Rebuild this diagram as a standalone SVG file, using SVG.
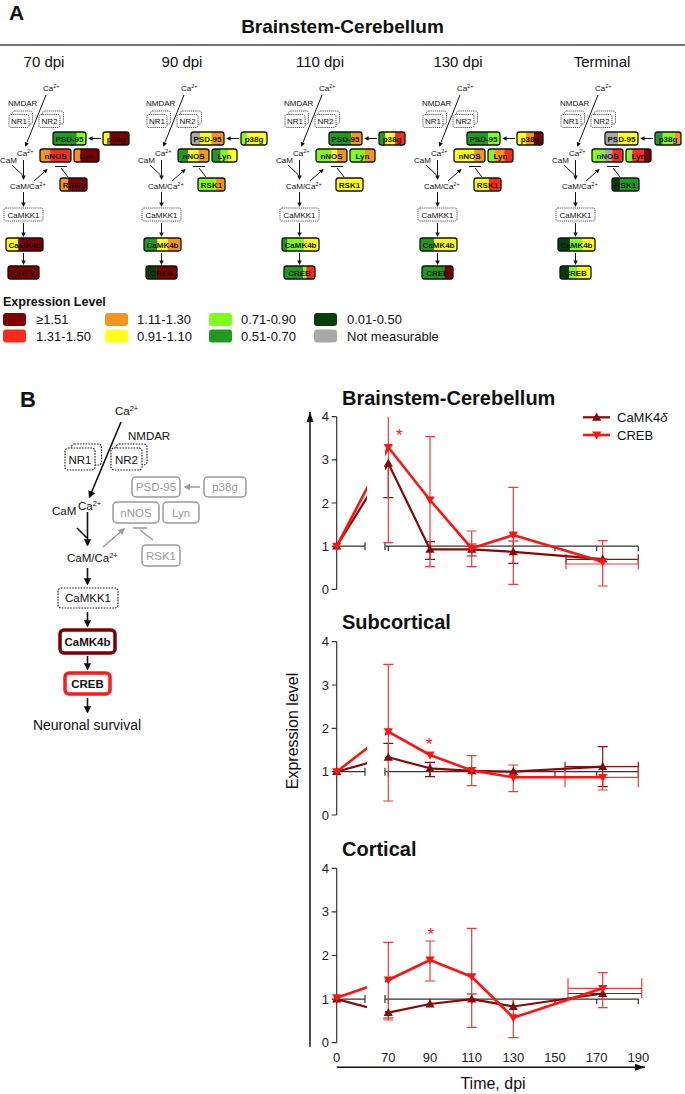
<svg xmlns="http://www.w3.org/2000/svg" width="685" height="1094" viewBox="0 0 685 1094">
<style>
text{font-family:"Liberation Sans",Arial,sans-serif;fill:#111}
.t8{font-size:8px}
.sup{font-size:5.5px}
.mid{text-anchor:middle}
.bt{font-size:8px;font-weight:bold;text-anchor:middle}
.bx{fill:none;stroke:#111;stroke-width:1.3}
.dot{fill:#fff;stroke:#222;stroke-width:0.8;stroke-dasharray:1.2 0.9}
.ln{stroke:#111;stroke-width:1;fill:none}
.ar{marker-end:url(#ah)}
.DR{fill:#7d0000}.R{fill:#ff2a1a}.O{fill:#f7941d}.Y{fill:#ffff1a}.LG{fill:#80ff1a}.G{fill:#1f9a1f}.DG{fill:#073d07}.GR{fill:#a8a8a8}
.lab{font-size:15px;text-anchor:middle}
.leg{font-size:13px}
.b11{font-size:11.5px}
.bsup{font-size:7.5px}
.bl{stroke:#111;stroke-width:1.6;fill:none}
.gbx{fill:none;stroke:#9a9a9a;stroke-width:1.5}
.gt{font-size:11.5px;fill:#9a9a9a;text-anchor:middle}
.gl{stroke:#9a9a9a;stroke-width:1.5;fill:none}
.ax{stroke:#333;stroke-width:1.2;fill:none}
.tk{font-size:13px;text-anchor:end;fill:#222}
.xl{font-size:13px;text-anchor:middle;fill:#222}
.ttl{font-size:20px;font-weight:bold}
.ebr{stroke:#f03a3a;stroke-width:1.2;fill:none}
.ebd{stroke:#8b1010;stroke-width:1.2;fill:none}
.l1{stroke:#870808;stroke-width:2.2;fill:none;stroke-linejoin:round}
.l2{stroke:#ff1414;stroke-width:2.6;fill:none;stroke-linejoin:round}
.m1{fill:#870808}
.m2{fill:#ff1414}
.star{font-size:17px;fill:#ff1414;text-anchor:middle}
</style>
<defs>
<marker id="ah" viewBox="0 0 10 10" refX="8" refY="5" markerWidth="4.5" markerHeight="4.5" orient="auto"><path d="M0,0 L10,5 L0,10 z" fill="#111"/></marker>
<marker id="ahg" viewBox="0 0 10 10" refX="8" refY="5" markerWidth="4.5" markerHeight="4.5" orient="auto"><path d="M0,0 L10,5 L0,10 z" fill="#9a9a9a"/></marker>
<marker id="ahL" viewBox="0 0 10 7" refX="10" refY="3.5" markerWidth="6.7" markerHeight="4.7" orient="auto"><path d="M0,0 L10,3.5 L0,7 z" fill="#111"/></marker>
<path id="tu" d="M0,-4.6 L4.6,3.4 L-4.6,3.4 Z"/>
<path id="td" d="M0,4.6 L4.6,-3.4 L-4.6,-3.4 Z"/>
<clipPath id="brk" clipPathUnits="userSpaceOnUse"><rect x="0" y="0" width="367" height="1094"/><rect x="385" y="0" width="300" height="1094"/></clipPath>
</defs>
<rect width="685" height="1094" fill="#fff"/>

<!-- Panel A header -->
<g id="headerA">
<text x="9" y="20" font-size="21" font-weight="bold">A</text>
<text x="342.5" y="33" font-size="19" font-weight="bold" text-anchor="middle">Brainstem-Cerebellum</text>
<line x1="0" y1="45" x2="685" y2="45" stroke="#444" stroke-width="1.5"/>
<text class="lab" x="44" y="67">70 dpi</text>
<text class="lab" x="182" y="67">90 dpi</text>
<text class="lab" x="320" y="67">110 dpi</text>
<text class="lab" x="458" y="67">130 dpi</text>
<text class="lab" x="602" y="67">Terminal</text>
</g>

<!-- Column 70 dpi -->
<g id="col70" transform="translate(0,0)">
<g id="c70-conn">
<line class="ln ar" x1="46" y1="95" x2="25.5" y2="146"/>
<line class="ln ar" x1="23.5" y1="160" x2="23.5" y2="179"/>
<line class="ln" x1="12" y1="165" x2="22.5" y2="175"/>
<line class="ln ar" x1="34" y1="181" x2="47" y2="169.5"/>
<line class="ln ar" x1="23.5" y1="192" x2="23.5" y2="206"/>
<line class="ln ar" x1="23.5" y1="223" x2="23.5" y2="236"/>
<line class="ln ar" x1="23.5" y1="253" x2="23.5" y2="264"/>
<line class="ln ar" x1="101" y1="138.5" x2="89" y2="138.5"/>
<path class="ln" d="M68,177 L61,168 M55,166.5 H67"/>
</g>
<g id="c70-ca1"><text class="t8" x="43" y="91">Ca<tspan class="sup" dy="-3">2+</tspan></text></g>
<g id="c70-nmdar"><text class="t8" x="8" y="106">NMDAR</text></g>
<g id="c70-nr1"><rect class="dot" x="12.5" y="111" width="20" height="13" rx="2"/><rect class="dot" x="9" y="114.5" width="20" height="13" rx="2"/><text class="t8 mid" x="19" y="124">NR1</text></g>
<g id="c70-nr2"><rect class="dot" x="42.5" y="111" width="21" height="13" rx="2"/><rect class="dot" x="39" y="114.5" width="21" height="13" rx="2"/><text class="t8 mid" x="49.5" y="124">NR2</text></g>
<g id="c70-ca2"><text class="t8" x="17" y="156">Ca<tspan class="sup" dy="-3">2+</tspan></text></g>
<g id="c70-cam"><text class="t8" x="0" y="163">CaM</text></g>
<g id="c70-camca"><text class="t8" x="10" y="189">CaM/Ca<tspan class="sup" dy="-3">2+</tspan></text></g>
<g id="c70-camkk1"><rect class="dot" x="4" y="208" width="39" height="13" rx="2"/><text class="t8 mid" x="23.5" y="217.5">CaMKK1</text></g>
<g id="c70-psd95"><rect class="G" x="53" y="132" width="23.8" height="13"/><rect class="LG" x="76.8" y="132" width="9.2" height="13"/><rect class="bx" x="53" y="132" width="33" height="13" rx="2.5"/><text class="bt" x="69.5" y="141.5">PSD-95</text></g>
<g id="c70-p38g"><rect class="Y" x="103" y="132" width="6.5" height="13"/><rect class="DR" x="109.5" y="132" width="19.5" height="13"/><rect class="bx" x="103" y="132" width="26" height="13" rx="2.5"/><text class="bt" x="116" y="141.5">p38g</text></g>
<g id="c70-nnos"><rect class="O" x="40" y="149" width="10.2" height="13"/><rect class="R" x="50.2" y="149" width="20.8" height="13"/><rect class="bx" x="40" y="149" width="31" height="13" rx="2.5"/><text class="bt" x="55.5" y="158.5">nNOS</text></g>
<g id="c70-lyn"><rect class="O" x="74" y="149" width="6.25" height="13"/><rect class="DR" x="80.25" y="149" width="18.75" height="13"/><rect class="bx" x="74" y="149" width="25" height="13" rx="2.5"/><text class="bt" x="86.5" y="158.5">Lyn</text></g>
<g id="c70-rsk1"><rect class="O" x="60" y="178" width="8.1" height="13"/><rect class="DR" x="68.1" y="178" width="18.9" height="13"/><rect class="bx" x="60" y="178" width="27" height="13" rx="2.5"/><text class="bt" x="73.5" y="187.5">RSK1</text></g>
<g id="c70-camk4b"><rect class="Y" x="6" y="238" width="12.2" height="13"/><rect class="DR" x="18.2" y="238" width="24.8" height="13"/><rect class="bx" x="6" y="238" width="37" height="13" rx="2.5"/><text class="bt" x="24.5" y="247.5">CaMK4b</text></g>
<g id="c70-creb"><rect class="DR" x="8" y="266" width="31" height="13"/><rect class="bx" x="8" y="266" width="31" height="13" rx="2.5"/><text class="bt" x="23.5" y="275.5">CREB</text></g>
</g>

<!-- Column 90 dpi -->
<g id="col90" transform="translate(138,0)">
<g id="c90-conn">
<line class="ln ar" x1="46" y1="95" x2="25.5" y2="146"/>
<line class="ln ar" x1="23.5" y1="160" x2="23.5" y2="179"/>
<line class="ln" x1="12" y1="165" x2="22.5" y2="175"/>
<line class="ln ar" x1="34" y1="181" x2="47" y2="169.5"/>
<line class="ln ar" x1="23.5" y1="192" x2="23.5" y2="206"/>
<line class="ln ar" x1="23.5" y1="223" x2="23.5" y2="236"/>
<line class="ln ar" x1="23.5" y1="253" x2="23.5" y2="264"/>
<line class="ln ar" x1="101" y1="138.5" x2="89" y2="138.5"/>
<path class="ln" d="M68,177 L61,168 M55,166.5 H67"/>
</g>
<g id="c90-ca1"><text class="t8" x="43" y="91">Ca<tspan class="sup" dy="-3">2+</tspan></text></g>
<g id="c90-nmdar"><text class="t8" x="8" y="106">NMDAR</text></g>
<g id="c90-nr1"><rect class="dot" x="12.5" y="111" width="20" height="13" rx="2"/><rect class="dot" x="9" y="114.5" width="20" height="13" rx="2"/><text class="t8 mid" x="19" y="124">NR1</text></g>
<g id="c90-nr2"><rect class="dot" x="42.5" y="111" width="21" height="13" rx="2"/><rect class="dot" x="39" y="114.5" width="21" height="13" rx="2"/><text class="t8 mid" x="49.5" y="124">NR2</text></g>
<g id="c90-ca2"><text class="t8" x="17" y="156">Ca<tspan class="sup" dy="-3">2+</tspan></text></g>
<g id="c90-cam"><text class="t8" x="0" y="163">CaM</text></g>
<g id="c90-camca"><text class="t8" x="10" y="189">CaM/Ca<tspan class="sup" dy="-3">2+</tspan></text></g>
<g id="c90-camkk1"><rect class="dot" x="4" y="208" width="39" height="13" rx="2"/><text class="t8 mid" x="23.5" y="217.5">CaMKK1</text></g>
<g id="c90-psd95"><rect class="GR" x="53" y="132" width="9.2" height="13"/><rect class="Y" x="62.2" y="132" width="11.3" height="13"/><rect class="O" x="73.5" y="132" width="12.5" height="13"/><rect class="bx" x="53" y="132" width="33" height="13" rx="2.5"/><text class="bt" x="69.5" y="141.5">PSD-95</text></g>
<g id="c90-p38g"><rect class="LG" x="103" y="132" width="6.5" height="13"/><rect class="Y" x="109.5" y="132" width="19.5" height="13"/><rect class="bx" x="103" y="132" width="26" height="13" rx="2.5"/><text class="bt" x="116" y="141.5">p38g</text></g>
<g id="c90-nnos"><rect class="G" x="40" y="149" width="10.2" height="13"/><rect class="Y" x="50.2" y="149" width="10.3" height="13"/><rect class="O" x="60.5" y="149" width="10.5" height="13"/><rect class="bx" x="40" y="149" width="31" height="13" rx="2.5"/><text class="bt" x="55.5" y="158.5">nNOS</text></g>
<g id="c90-lyn"><rect class="G" x="74" y="149" width="8.75" height="13"/><rect class="LG" x="82.75" y="149" width="7.5" height="13"/><rect class="Y" x="90.25" y="149" width="8.75" height="13"/><rect class="bx" x="74" y="149" width="25" height="13" rx="2.5"/><text class="bt" x="86.5" y="158.5">Lyn</text></g>
<g id="c90-rsk1"><rect class="LG" x="60" y="178" width="17.8" height="13"/><rect class="O" x="77.8" y="178" width="9.2" height="13"/><rect class="bx" x="60" y="178" width="27" height="13" rx="2.5"/><text class="bt" x="73.5" y="187.5">RSK1</text></g>
<g id="c90-camk4b"><rect class="G" x="6" y="238" width="13.3" height="13"/><rect class="Y" x="19.3" y="238" width="10.4" height="13"/><rect class="O" x="29.7" y="238" width="13.3" height="13"/><rect class="bx" x="6" y="238" width="37" height="13" rx="2.5"/><text class="bt" x="24.5" y="247.5">CaMK4b</text></g>
<g id="c90-creb"><rect class="DG" x="8" y="266" width="10.9" height="13"/><rect class="DR" x="18.9" y="266" width="20.1" height="13"/><rect class="bx" x="8" y="266" width="31" height="13" rx="2.5"/><text class="bt" x="23.5" y="275.5">CREB</text></g>
</g>

<!-- Column 110 dpi -->
<g id="col110" transform="translate(276,0)">
<g id="c110-conn">
<line class="ln ar" x1="46" y1="95" x2="25.5" y2="146"/>
<line class="ln ar" x1="23.5" y1="160" x2="23.5" y2="179"/>
<line class="ln" x1="12" y1="165" x2="22.5" y2="175"/>
<line class="ln ar" x1="34" y1="181" x2="47" y2="169.5"/>
<line class="ln ar" x1="23.5" y1="192" x2="23.5" y2="206"/>
<line class="ln ar" x1="23.5" y1="223" x2="23.5" y2="236"/>
<line class="ln ar" x1="23.5" y1="253" x2="23.5" y2="264"/>
<line class="ln ar" x1="101" y1="138.5" x2="89" y2="138.5"/>
<path class="ln" d="M68,177 L61,168 M55,166.5 H67"/>
</g>
<g id="c110-ca1"><text class="t8" x="43" y="91">Ca<tspan class="sup" dy="-3">2+</tspan></text></g>
<g id="c110-nmdar"><text class="t8" x="8" y="106">NMDAR</text></g>
<g id="c110-nr1"><rect class="dot" x="12.5" y="111" width="20" height="13" rx="2"/><rect class="dot" x="9" y="114.5" width="20" height="13" rx="2"/><text class="t8 mid" x="19" y="124">NR1</text></g>
<g id="c110-nr2"><rect class="dot" x="42.5" y="111" width="21" height="13" rx="2"/><rect class="dot" x="39" y="114.5" width="21" height="13" rx="2"/><text class="t8 mid" x="49.5" y="124">NR2</text></g>
<g id="c110-ca2"><text class="t8" x="17" y="156">Ca<tspan class="sup" dy="-3">2+</tspan></text></g>
<g id="c110-cam"><text class="t8" x="0" y="163">CaM</text></g>
<g id="c110-camca"><text class="t8" x="10" y="189">CaM/Ca<tspan class="sup" dy="-3">2+</tspan></text></g>
<g id="c110-camkk1"><rect class="dot" x="4" y="208" width="39" height="13" rx="2"/><text class="t8 mid" x="23.5" y="217.5">CaMKK1</text></g>
<g id="c110-psd95"><rect class="G" x="53" y="132" width="22.4" height="13"/><rect class="O" x="75.4" y="132" width="10.6" height="13"/><rect class="bx" x="53" y="132" width="33" height="13" rx="2.5"/><text class="bt" x="69.5" y="141.5">PSD-95</text></g>
<g id="c110-p38g"><rect class="G" x="103" y="132" width="6.5" height="13"/><rect class="Y" x="109.5" y="132" width="9.6" height="13"/><rect class="R" x="119.1" y="132" width="9.9" height="13"/><rect class="bx" x="103" y="132" width="26" height="13" rx="2.5"/><text class="bt" x="116" y="141.5">p38g</text></g>
<g id="c110-nnos"><rect class="LG" x="40" y="149" width="15.5" height="13"/><rect class="Y" x="55.5" y="149" width="5.6" height="13"/><rect class="O" x="61.1" y="149" width="9.9" height="13"/><rect class="bx" x="40" y="149" width="31" height="13" rx="2.5"/><text class="bt" x="55.5" y="158.5">nNOS</text></g>
<g id="c110-lyn"><rect class="LG" x="74" y="149" width="15" height="13"/><rect class="O" x="89" y="149" width="10" height="13"/><rect class="bx" x="74" y="149" width="25" height="13" rx="2.5"/><text class="bt" x="86.5" y="158.5">Lyn</text></g>
<g id="c110-rsk1"><rect class="Y" x="60" y="178" width="27" height="13"/><rect class="bx" x="60" y="178" width="27" height="13" rx="2.5"/><text class="bt" x="73.5" y="187.5">RSK1</text></g>
<g id="c110-camk4b"><rect class="G" x="6" y="238" width="5.6" height="13"/><rect class="LG" x="11.6" y="238" width="16.6" height="13"/><rect class="Y" x="28.2" y="238" width="14.8" height="13"/><rect class="bx" x="6" y="238" width="37" height="13" rx="2.5"/><text class="bt" x="24.5" y="247.5">CaMK4b</text></g>
<g id="c110-creb"><rect class="G" x="8" y="266" width="19.2" height="13"/><rect class="LG" x="27.2" y="266" width="3.1" height="13"/><rect class="R" x="30.3" y="266" width="8.7" height="13"/><rect class="bx" x="8" y="266" width="31" height="13" rx="2.5"/><text class="bt" x="23.5" y="275.5">CREB</text></g>
</g>

<!-- Column 130 dpi -->
<g id="col130" transform="translate(414,0)">
<g id="c130-conn">
<line class="ln ar" x1="46" y1="95" x2="25.5" y2="146"/>
<line class="ln ar" x1="23.5" y1="160" x2="23.5" y2="179"/>
<line class="ln" x1="12" y1="165" x2="22.5" y2="175"/>
<line class="ln ar" x1="34" y1="181" x2="47" y2="169.5"/>
<line class="ln ar" x1="23.5" y1="192" x2="23.5" y2="206"/>
<line class="ln ar" x1="23.5" y1="223" x2="23.5" y2="236"/>
<line class="ln ar" x1="23.5" y1="253" x2="23.5" y2="264"/>
<line class="ln ar" x1="101" y1="138.5" x2="89" y2="138.5"/>
<path class="ln" d="M68,177 L61,168 M55,166.5 H67"/>
</g>
<g id="c130-ca1"><text class="t8" x="43" y="91">Ca<tspan class="sup" dy="-3">2+</tspan></text></g>
<g id="c130-nmdar"><text class="t8" x="8" y="106">NMDAR</text></g>
<g id="c130-nr1"><rect class="dot" x="12.5" y="111" width="20" height="13" rx="2"/><rect class="dot" x="9" y="114.5" width="20" height="13" rx="2"/><text class="t8 mid" x="19" y="124">NR1</text></g>
<g id="c130-nr2"><rect class="dot" x="42.5" y="111" width="21" height="13" rx="2"/><rect class="dot" x="39" y="114.5" width="21" height="13" rx="2"/><text class="t8 mid" x="49.5" y="124">NR2</text></g>
<g id="c130-ca2"><text class="t8" x="17" y="156">Ca<tspan class="sup" dy="-3">2+</tspan></text></g>
<g id="c130-cam"><text class="t8" x="0" y="163">CaM</text></g>
<g id="c130-camca"><text class="t8" x="10" y="189">CaM/Ca<tspan class="sup" dy="-3">2+</tspan></text></g>
<g id="c130-camkk1"><rect class="dot" x="4" y="208" width="39" height="13" rx="2"/><text class="t8 mid" x="23.5" y="217.5">CaMKK1</text></g>
<g id="c130-psd95"><rect class="G" x="53" y="132" width="21.5" height="13"/><rect class="LG" x="74.5" y="132" width="11.5" height="13"/><rect class="bx" x="53" y="132" width="33" height="13" rx="2.5"/><text class="bt" x="69.5" y="141.5">PSD-95</text></g>
<g id="c130-p38g"><rect class="Y" x="103" y="132" width="9.1" height="13"/><rect class="O" x="112.1" y="132" width="7.8" height="13"/><rect class="DR" x="119.9" y="132" width="9.1" height="13"/><rect class="bx" x="103" y="132" width="26" height="13" rx="2.5"/><text class="bt" x="116" y="141.5">p38g</text></g>
<g id="c130-nnos"><rect class="Y" x="40" y="149" width="20.2" height="13"/><rect class="O" x="60.2" y="149" width="10.8" height="13"/><rect class="bx" x="40" y="149" width="31" height="13" rx="2.5"/><text class="bt" x="55.5" y="158.5">nNOS</text></g>
<g id="c130-lyn"><rect class="LG" x="74" y="149" width="6.25" height="13"/><rect class="O" x="80.25" y="149" width="10" height="13"/><rect class="R" x="90.25" y="149" width="8.75" height="13"/><rect class="bx" x="74" y="149" width="25" height="13" rx="2.5"/><text class="bt" x="86.5" y="158.5">Lyn</text></g>
<g id="c130-rsk1"><rect class="Y" x="60" y="178" width="14.9" height="13"/><rect class="R" x="74.9" y="178" width="12.1" height="13"/><rect class="bx" x="60" y="178" width="27" height="13" rx="2.5"/><text class="bt" x="73.5" y="187.5">RSK1</text></g>
<g id="c130-camk4b"><rect class="G" x="6" y="238" width="14.1" height="13"/><rect class="Y" x="20.1" y="238" width="22.9" height="13"/><rect class="bx" x="6" y="238" width="37" height="13" rx="2.5"/><text class="bt" x="24.5" y="247.5">CaMK4b</text></g>
<g id="c130-creb"><rect class="G" x="8" y="266" width="22.3" height="13"/><rect class="DR" x="30.3" y="266" width="8.7" height="13"/><rect class="bx" x="8" y="266" width="31" height="13" rx="2.5"/><text class="bt" x="23.5" y="275.5">CREB</text></g>
</g>

<!-- Column Terminal -->
<g id="colT" transform="translate(552,0)">
<g id="cT-conn">
<line class="ln ar" x1="46" y1="95" x2="25.5" y2="146"/>
<line class="ln ar" x1="23.5" y1="160" x2="23.5" y2="179"/>
<line class="ln" x1="12" y1="165" x2="22.5" y2="175"/>
<line class="ln ar" x1="34" y1="181" x2="47" y2="169.5"/>
<line class="ln ar" x1="23.5" y1="192" x2="23.5" y2="206"/>
<line class="ln ar" x1="23.5" y1="223" x2="23.5" y2="236"/>
<line class="ln ar" x1="23.5" y1="253" x2="23.5" y2="264"/>
<line class="ln ar" x1="101" y1="138.5" x2="89" y2="138.5"/>
<path class="ln" d="M68,177 L61,168 M55,166.5 H67"/>
</g>
<g id="cT-ca1"><text class="t8" x="43" y="91">Ca<tspan class="sup" dy="-3">2+</tspan></text></g>
<g id="cT-nmdar"><text class="t8" x="8" y="106">NMDAR</text></g>
<g id="cT-nr1"><rect class="dot" x="12.5" y="111" width="20" height="13" rx="2"/><rect class="dot" x="9" y="114.5" width="20" height="13" rx="2"/><text class="t8 mid" x="19" y="124">NR1</text></g>
<g id="cT-nr2"><rect class="dot" x="42.5" y="111" width="21" height="13" rx="2"/><rect class="dot" x="39" y="114.5" width="21" height="13" rx="2"/><text class="t8 mid" x="49.5" y="124">NR2</text></g>
<g id="cT-ca2"><text class="t8" x="17" y="156">Ca<tspan class="sup" dy="-3">2+</tspan></text></g>
<g id="cT-cam"><text class="t8" x="0" y="163">CaM</text></g>
<g id="cT-camca"><text class="t8" x="10" y="189">CaM/Ca<tspan class="sup" dy="-3">2+</tspan></text></g>
<g id="cT-camkk1"><rect class="dot" x="4" y="208" width="39" height="13" rx="2"/><text class="t8 mid" x="23.5" y="217.5">CaMKK1</text></g>
<g id="cT-psd95"><rect class="GR" x="53" y="132" width="13.2" height="13"/><rect class="Y" x="66.2" y="132" width="19.8" height="13"/><rect class="bx" x="53" y="132" width="33" height="13" rx="2.5"/><text class="bt" x="69.5" y="141.5">PSD-95</text></g>
<g id="cT-p38g"><rect class="G" x="103" y="132" width="7.8" height="13"/><rect class="LG" x="110.8" y="132" width="11.7" height="13"/><rect class="O" x="122.5" y="132" width="6.5" height="13"/><rect class="bx" x="103" y="132" width="26" height="13" rx="2.5"/><text class="bt" x="116" y="141.5">p38g</text></g>
<g id="cT-nnos"><rect class="LG" x="40" y="149" width="12.4" height="13"/><rect class="GR" x="52.4" y="149" width="7.8" height="13"/><rect class="R" x="60.2" y="149" width="10.8" height="13"/><rect class="bx" x="40" y="149" width="31" height="13" rx="2.5"/><text class="bt" x="55.5" y="158.5">nNOS</text></g>
<g id="cT-lyn"><rect class="LG" x="74" y="149" width="6.25" height="13"/><rect class="R" x="80.25" y="149" width="11.25" height="13"/><rect class="DR" x="91.5" y="149" width="7.5" height="13"/><rect class="bx" x="74" y="149" width="25" height="13" rx="2.5"/><text class="bt" x="86.5" y="158.5">Lyn</text></g>
<g id="cT-rsk1"><rect class="DG" x="60" y="178" width="8.1" height="13"/><rect class="G" x="68.1" y="178" width="18.9" height="13"/><rect class="bx" x="60" y="178" width="27" height="13" rx="2.5"/><text class="bt" x="73.5" y="187.5">RSK1</text></g>
<g id="cT-camk4b"><rect class="DG" x="6" y="238" width="12.2" height="13"/><rect class="LG" x="18.2" y="238" width="12.2" height="13"/><rect class="Y" x="30.4" y="238" width="12.6" height="13"/><rect class="bx" x="6" y="238" width="37" height="13" rx="2.5"/><text class="bt" x="24.5" y="247.5">CaMK4b</text></g>
<g id="cT-creb"><rect class="DG" x="8" y="266" width="9.3" height="13"/><rect class="LG" x="17.3" y="266" width="7.7" height="13"/><rect class="Y" x="25" y="266" width="14" height="13"/><rect class="bx" x="8" y="266" width="31" height="13" rx="2.5"/><text class="bt" x="23.5" y="275.5">CREB</text></g>
</g>

<!-- Legend A -->
<g id="legendA">
<text x="3" y="306" font-size="12.5" font-weight="bold">Expression Level</text>
<rect class="DR" x="3" y="313" width="23" height="13" rx="3"/><text class="leg" x="36" y="324">≥1.51</text>
<rect class="R" x="3" y="329.5" width="23" height="13" rx="3"/><text class="leg" x="36" y="340.5">1.31-1.50</text>
<rect class="O" x="105" y="313" width="23" height="13" rx="3"/><text class="leg" x="137" y="324">1.11-1.30</text>
<rect class="Y" x="105" y="329.5" width="23" height="13" rx="3"/><text class="leg" x="137" y="340.5">0.91-1.10</text>
<rect class="LG" x="209" y="313" width="23" height="13" rx="3"/><text class="leg" x="241" y="324">0.71-0.90</text>
<rect class="G" x="209" y="329.5" width="23" height="13" rx="3"/><text class="leg" x="241" y="340.5">0.51-0.70</text>
<rect class="DG" x="314" y="313" width="23" height="13" rx="3"/><text class="leg" x="347" y="324">0.01-0.50</text>
<rect class="GR" x="314" y="329.5" width="23" height="13" rx="3"/><text class="leg" x="347" y="340.5">Not measurable</text>
</g>

<!-- Panel B pathway -->
<g id="panelB-path">
<text x="20" y="407" font-size="22" font-weight="bold">B</text>
<g id="b-conn">
<line class="bl ar" x1="121" y1="422" x2="89.5" y2="497"/>
<line class="bl ar" x1="87.5" y1="512" x2="87.5" y2="545"/>
<line class="bl" x1="77" y1="528" x2="87" y2="538"/>
<line class="bl ar" x1="87.5" y1="568" x2="87.5" y2="584"/>
<line class="bl ar" x1="87.5" y1="612" x2="87.5" y2="626"/>
<line class="bl ar" x1="87.5" y1="656" x2="87.5" y2="669"/>
<line class="bl ar" x1="87.5" y1="698" x2="87.5" y2="712"/>
<line class="gl" x1="103" y1="547" x2="124" y2="529" marker-end="url(#ahg)"/>
<line class="gl" x1="200" y1="487" x2="185" y2="487" marker-end="url(#ahg)"/>
<path class="gl" d="M153,540 L140,530 M133,528 H147"/>
</g>
<g id="b-ca1"><text class="b11" x="115" y="415">Ca<tspan class="bsup" dy="-4">2+</tspan></text></g>
<g id="b-nmdar"><text class="b11" x="128" y="440">NMDAR</text></g>
<g id="b-nr1"><rect class="dot" x="71.5" y="444" width="30" height="21" rx="3" style="stroke-width:1.2;stroke-dasharray:1.6 1.2"/><rect class="dot" x="65" y="448" width="30" height="22" rx="3" style="stroke-width:1.2;stroke-dasharray:1.6 1.2"/><text class="b11 mid" x="80" y="463.5">NR1</text></g>
<g id="b-nr2"><rect class="dot" x="116" y="444" width="31" height="21" rx="3" style="stroke-width:1.2;stroke-dasharray:1.6 1.2"/><rect class="dot" x="111" y="448" width="31" height="22" rx="3" style="stroke-width:1.2;stroke-dasharray:1.6 1.2"/><text class="b11 mid" x="126.5" y="463.5">NR2</text></g>
<g id="b-ca2"><text class="b11" x="78" y="510">Ca<tspan class="bsup" dy="-4">2+</tspan></text></g>
<g id="b-cam"><text class="b11" x="52" y="515">CaM</text></g>
<g id="b-camca"><text class="b11" x="67" y="562">CaM/Ca<tspan class="bsup" dy="-4">2+</tspan></text></g>
<g id="b-camkk1"><rect class="dot" x="58" y="588" width="60" height="20" rx="3" style="stroke-width:1.2;stroke-dasharray:1.6 1.2"/><text class="b11 mid" x="88" y="602">CaMKK1</text></g>
<g id="b-camk4b"><rect x="60" y="630" width="55" height="23" rx="4" fill="#fff" stroke="#7b0000" stroke-width="3.5"/><text class="b11 mid" x="87.5" y="645.5" font-weight="bold">CaMK4b</text></g>
<g id="b-creb"><rect x="65" y="673" width="45" height="21" rx="4" fill="#fff" stroke="#ff1a1a" stroke-width="3.5"/><text class="b11 mid" x="87.5" y="687.5" font-weight="bold">CREB</text></g>
<g id="b-survival"><text x="87" y="730" font-size="14" text-anchor="middle">Neuronal survival</text></g>
<g id="b-psd95"><rect class="gbx" x="132" y="477" width="48" height="20" rx="4"/><text class="gt" x="156" y="491">PSD-95</text></g>
<g id="b-p38g"><rect class="gbx" x="204" y="477" width="42" height="20" rx="4"/><text class="gt" x="225" y="491">p38g</text></g>
<g id="b-nnos"><rect class="gbx" x="113" y="502" width="46" height="21" rx="4"/><text class="gt" x="136" y="516.5">nNOS</text></g>
<g id="b-lyn"><rect class="gbx" x="163" y="502" width="36" height="21" rx="4"/><text class="gt" x="181" y="516.5">Lyn</text></g>
<g id="b-rsk1"><rect class="gbx" x="142" y="545" width="38" height="21" rx="4"/><text class="gt" x="161" y="559.5">RSK1</text></g>
</g>

<!-- Charts -->
<g id="charts">
<line x1="310" y1="1046.7" x2="310" y2="412" stroke="#111" stroke-width="1.5" marker-end="url(#ahL)"/>
<line x1="336.7" y1="1067.3" x2="645" y2="1067.3" stroke="#111" stroke-width="1.5" marker-end="url(#ahL)"/>
<text x="297.5" y="731" font-size="16" text-anchor="middle" transform="rotate(-90 297.5 731)">Expression level</text>
<text x="493" y="1089" font-size="16" text-anchor="middle">Time, dpi</text>

<!-- BC chart -->
<g id="chart-bc">
<text class="ttl" x="342" y="405">Brainstem-Cerebellum</text>
<path class="ax" d="M336.7,416.7V589.3 M331.7,416.7h5 M331.7,459.9h5 M331.7,503h5 M331.7,546.2h5 M331.7,589.3h5"/>
<text class="tk" x="329" y="421.2">4</text><text class="tk" x="329" y="464.4">3</text><text class="tk" x="329" y="507.5">2</text><text class="tk" x="329" y="550.7">1</text><text class="tk" x="329" y="593.8">0</text>
<path class="ax" d="M336.7,546.2H365 M365,542.2v8 M385,546.2H638.3 M385,542.2v8 M388.3,546.2v5 M430,546.2v5 M471.7,546.2v5 M513.3,546.2v5 M555,546.2v5 M596.7,546.2v5 M638.3,546.2v5"/>
<path class="ebd" d="M388.3,463.3V497.7M383.3,497.7h10 M430,541.7V559.3M425,541.7h10M425,559.3h10 M471.7,544V556M466.7,544h10M466.7,556h10 M513.3,541V563.3M508.3,541h10M508.3,563.3h10 M566,559.3H638.3M566,554.3v10M638.3,554.3v10"/>
<path class="ebr" d="M388.3,416.7V542.7M383.3,542.7h10 M430,436.7V566.7M425,436.7h10M425,566.7h10 M471.7,531V566.7M466.7,531h10M466.7,566.7h10 M513.3,487.3V584.3M508.3,487.3h10M508.3,584.3h10 M602.7,540.7V586M597.7,540.7h10M597.7,586h10 M566,564H638.3M566,559v10M638.3,559v10"/>
<g clip-path="url(#brk)">
<polyline class="l1" points="336.7,546.2 388.3,463.3 430,549.3 471.7,549.3 513.3,551.8 602.7,559.1"/>
<polyline class="l2" points="336.7,546.2 388.3,447.3 430,500 471.7,548.3 513.3,535 602.7,561.7"/>
</g>
<g class="m1"><use href="#tu" x="336.7" y="546.2"/><use href="#tu" x="388.3" y="463.3"/><use href="#tu" x="430" y="549.3"/><use href="#tu" x="471.7" y="549.3"/><use href="#tu" x="513.3" y="551.8"/><use href="#tu" x="602.7" y="559.1"/></g>
<g class="m2"><use href="#td" x="336.7" y="546.2"/><use href="#td" x="388.3" y="447.3"/><use href="#td" x="430" y="500"/><use href="#td" x="471.7" y="548.3"/><use href="#td" x="513.3" y="535"/><use href="#td" x="602.7" y="561.7"/></g>
<text class="star" x="399.3" y="441">*</text>
<g id="chart-legend">
<line class="l1" x1="583" y1="417.3" x2="610" y2="417.3"/><use href="#tu" x="596.7" y="417.3" class="m1"/>
<text class="leg" x="617" y="422">CaMK4<tspan font-style="italic">δ</tspan></text>
<line class="l2" x1="583" y1="435" x2="610" y2="435"/><use href="#td" x="596.7" y="435" class="m2"/>
<text class="leg" x="617" y="440">CREB</text>
</g>
</g>

<!-- Subcortical chart -->
<g id="chart-sub">
<text class="ttl" x="342" y="629">Subcortical</text>
<path class="ax" d="M336.7,641.7V815 M331.7,641.7h5 M331.7,685h5 M331.7,728.3h5 M331.7,771.7h5 M331.7,815h5"/>
<text class="tk" x="329" y="646.2">4</text><text class="tk" x="329" y="689.5">3</text><text class="tk" x="329" y="732.8">2</text><text class="tk" x="329" y="776.2">1</text><text class="tk" x="329" y="819.5">0</text>
<path class="ax" d="M336.7,771.7H365 M365,767.7v8 M385,771.7H638.3 M385,767.7v8 M388.3,771.7v5 M430,771.7v5 M471.7,771.7v5 M513.3,771.7v5 M555,771.7v5 M596.7,771.7v5 M638.3,771.7v5"/>
<path class="ebd" d="M388.3,743.3V757.3M383.3,743.3h10 M430,762.3V776.7M425,762.3h10M425,776.7h10 M602.7,746.7V786.7M597.7,746.7h10M597.7,786.7h10 M565,766.7H638.3M565,761.7v10M638.3,761.7v10"/>
<path class="ebr" d="M388.3,664.3V801M383.3,664.3h10M383.3,801h10 M471.7,755.7V785.7M466.7,755.7h10M466.7,785.7h10 M513.3,765V791.7M508.3,765h10M508.3,791.7h10 M602.7,777.3V790M597.7,790h10 M565,777.3H638.3M565,767.3v20M638.3,767.3v20"/>
<g clip-path="url(#brk)">
<polyline class="l1" points="336.7,771.7 388.3,757.3 430,768.3 471.7,770.8 513.3,771.7 602.7,766.7"/>
<polyline class="l2" points="336.7,771.7 388.3,731.7 430,755 471.7,770.4 513.3,777.3 602.7,777.3"/>
</g>
<g class="m1"><use href="#tu" x="336.7" y="771.7"/><use href="#tu" x="388.3" y="757.3"/><use href="#tu" x="430" y="768.3"/><use href="#tu" x="471.7" y="770.8"/><use href="#tu" x="513.3" y="771.7"/><use href="#tu" x="602.7" y="766.7"/></g>
<g class="m2"><use href="#td" x="336.7" y="771.7"/><use href="#td" x="388.3" y="731.7"/><use href="#td" x="430" y="755"/><use href="#td" x="471.7" y="770.4"/><use href="#td" x="513.3" y="777.3"/><use href="#td" x="602.7" y="777.3"/></g>
<text class="star" x="429" y="749.5">*</text>
</g>

<!-- Cortical chart -->
<g id="chart-cort">
<text class="ttl" x="342" y="856">Cortical</text>
<path class="ax" d="M336.7,868.3V1042.7 M331.7,868.3h5 M331.7,911.9h5 M331.7,955.5h5 M331.7,999.1h5 M331.7,1042.7h5"/>
<text class="tk" x="329" y="872.8">4</text><text class="tk" x="329" y="916.4">3</text><text class="tk" x="329" y="960">2</text><text class="tk" x="329" y="1003.6">1</text><text class="tk" x="329" y="1047.2">0</text>
<path class="ax" d="M336.7,999.1H365 M365,995.1v8 M385,999.1H638.3 M385,995.1v8 M388.3,999.1v5 M430,999.1v5 M471.7,999.1v5 M513.3,999.1v5 M555,999.1v5 M596.7,999.1v5 M638.3,999.1v5"/>
<path class="ebd" d="M388.3,1012.7V1018M383.3,1018h10 M471.7,994V1004M466.7,994h10 M568,993.5H641.7"/>
<path class="ebr" d="M388.3,942.3V1020M383.3,942.3h10M383.3,1020h10 M430,941V981M425,941h10M425,981h10 M471.7,928.3V1027.3M466.7,928.3h10M466.7,1027.3h10 M513.3,999.3V1037.7M508.3,999.3h10M508.3,1037.7h10 M602.7,972.7V1007.7M597.7,972.7h10M597.7,1007.7h10 M568,988.3H641.7M568,978.3v20M641.7,978.3v20"/>
<g clip-path="url(#brk)">
<polyline class="l1" points="336.7,999.1 388.3,1012.7 430,1004 471.7,999.1 513.3,1006.5 602.7,993.5"/>
<polyline class="l2" points="336.7,997.7 388.3,980 430,960 471.7,976.7 513.3,1017.7 602.7,988.3"/>
</g>
<g class="m1"><use href="#tu" x="336.7" y="999.1"/><use href="#tu" x="388.3" y="1012.7"/><use href="#tu" x="430" y="1004"/><use href="#tu" x="471.7" y="999.1"/><use href="#tu" x="513.3" y="1006.5"/><use href="#tu" x="602.7" y="993.5"/></g>
<g class="m2"><use href="#td" x="336.7" y="997.7"/><use href="#td" x="388.3" y="980"/><use href="#td" x="430" y="960"/><use href="#td" x="471.7" y="976.7"/><use href="#td" x="513.3" y="1017.7"/><use href="#td" x="602.7" y="988.3"/></g>
<text class="star" x="430.7" y="939.5">*</text>
<text class="xl" x="336.7" y="1062">0</text><text class="xl" x="388.3" y="1062">70</text><text class="xl" x="430" y="1062">90</text><text class="xl" x="471.7" y="1062">110</text><text class="xl" x="513.3" y="1062">130</text><text class="xl" x="555" y="1062">150</text><text class="xl" x="596.7" y="1062">170</text><text class="xl" x="638.3" y="1062">190</text>
</g>
</g>
</svg>
